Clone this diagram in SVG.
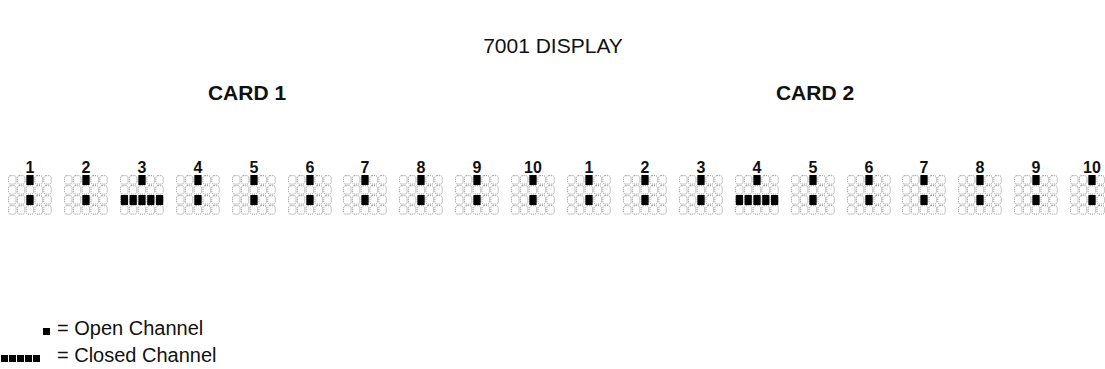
<svg xmlns="http://www.w3.org/2000/svg" xmlns:xlink="http://www.w3.org/1999/xlink" width="1105" height="369" viewBox="0 0 1105 369">
<style>
text{font-family:"Liberation Sans",Arial,sans-serif;fill:#111}
.title{font-size:21px}
.card{font-size:21px;font-weight:bold}
.num{font-size:16px;font-weight:bold;text-anchor:middle}
.leg{font-size:20px}
.cell{fill:none;stroke:#8a8a8a;stroke-width:1;stroke-dasharray:1 1}
.on{fill:#000}
</style>
<defs>
<g id="cells">
<rect class="cell" x="0.6" y="0.7" width="7.4" height="8.4" rx="2"/><rect class="cell" x="9.4" y="0.7" width="7.4" height="8.4" rx="2"/><rect class="cell" x="18.2" y="0.7" width="7.4" height="8.4" rx="2"/><rect class="cell" x="27" y="0.7" width="7.4" height="8.4" rx="2"/><rect class="cell" x="35.8" y="0.7" width="7.4" height="8.4" rx="2"/>
<rect class="cell" x="0.6" y="10.7" width="7.4" height="8.4" rx="2"/><rect class="cell" x="9.4" y="10.7" width="7.4" height="8.4" rx="2"/><rect class="cell" x="18.2" y="10.7" width="7.4" height="8.4" rx="2"/><rect class="cell" x="27" y="10.7" width="7.4" height="8.4" rx="2"/><rect class="cell" x="35.8" y="10.7" width="7.4" height="8.4" rx="2"/>
<rect class="cell" x="0.6" y="20.7" width="7.4" height="8.4" rx="2"/><rect class="cell" x="9.4" y="20.7" width="7.4" height="8.4" rx="2"/><rect class="cell" x="18.2" y="20.7" width="7.4" height="8.4" rx="2"/><rect class="cell" x="27" y="20.7" width="7.4" height="8.4" rx="2"/><rect class="cell" x="35.8" y="20.7" width="7.4" height="8.4" rx="2"/>
<rect class="cell" x="0.6" y="30.7" width="7.4" height="8.4" rx="2"/><rect class="cell" x="9.4" y="30.7" width="7.4" height="8.4" rx="2"/><rect class="cell" x="18.2" y="30.7" width="7.4" height="8.4" rx="2"/><rect class="cell" x="27" y="30.7" width="7.4" height="8.4" rx="2"/><rect class="cell" x="35.8" y="30.7" width="7.4" height="8.4" rx="2"/>
</g>
<g id="open">
<use xlink:href="#cells"/>
<rect class="on" x="18.4" y="0" width="7.2" height="10"/>
<rect class="on" x="18.4" y="20" width="7.2" height="10"/>
</g>
<g id="closed">
<use xlink:href="#cells"/>
<rect class="on" x="18.4" y="0" width="7.2" height="10"/>
<rect class="on" x="0.8" y="20" width="7.2" height="10"/><rect class="on" x="9.6" y="20" width="7.2" height="10"/><rect class="on" x="18.4" y="20" width="7.2" height="10"/><rect class="on" x="27.2" y="20" width="7.2" height="10"/><rect class="on" x="36" y="20" width="7.2" height="10"/>
</g>
</defs>
<text class="title" x="553" y="53" text-anchor="middle">7001 DISPLAY</text>
<text class="card" x="247" y="100" text-anchor="middle">CARD 1</text>
<text class="card" x="815" y="100" text-anchor="middle">CARD 2</text>
<g id="card1">
<g id="c1-ch1"><text class="num" x="30" y="173">1</text><use xlink:href="#open" x="8" y="175"/></g>
<g id="c1-ch2"><text class="num" x="86" y="173">2</text><use xlink:href="#open" x="64" y="175"/></g>
<g id="c1-ch3"><text class="num" x="142" y="173">3</text><use xlink:href="#closed" x="120" y="175"/></g>
<g id="c1-ch4"><text class="num" x="198" y="173">4</text><use xlink:href="#open" x="176" y="175"/></g>
<g id="c1-ch5"><text class="num" x="254" y="173">5</text><use xlink:href="#open" x="232" y="175"/></g>
<g id="c1-ch6"><text class="num" x="310" y="173">6</text><use xlink:href="#open" x="288" y="175"/></g>
<g id="c1-ch7"><text class="num" x="365" y="173">7</text><use xlink:href="#open" x="343" y="175"/></g>
<g id="c1-ch8"><text class="num" x="421" y="173">8</text><use xlink:href="#open" x="399" y="175"/></g>
<g id="c1-ch9"><text class="num" x="477" y="173">9</text><use xlink:href="#open" x="455" y="175"/></g>
<g id="c1-ch10"><text class="num" x="533" y="173">10</text><use xlink:href="#open" x="511" y="175"/></g>
</g>
<g id="card2">
<g id="c2-ch1"><text class="num" x="589" y="173">1</text><use xlink:href="#open" x="567" y="175"/></g>
<g id="c2-ch2"><text class="num" x="645" y="173">2</text><use xlink:href="#open" x="623" y="175"/></g>
<g id="c2-ch3"><text class="num" x="701" y="173">3</text><use xlink:href="#open" x="679" y="175"/></g>
<g id="c2-ch4"><text class="num" x="757" y="173">4</text><use xlink:href="#closed" x="735" y="175"/></g>
<g id="c2-ch5"><text class="num" x="813" y="173">5</text><use xlink:href="#open" x="791" y="175"/></g>
<g id="c2-ch6"><text class="num" x="869" y="173">6</text><use xlink:href="#open" x="847" y="175"/></g>
<g id="c2-ch7"><text class="num" x="924" y="173">7</text><use xlink:href="#open" x="902" y="175"/></g>
<g id="c2-ch8"><text class="num" x="980" y="173">8</text><use xlink:href="#open" x="958" y="175"/></g>
<g id="c2-ch9"><text class="num" x="1036" y="173">9</text><use xlink:href="#open" x="1014" y="175"/></g>
<g id="c2-ch10"><text class="num" x="1092" y="173">10</text><use xlink:href="#open" x="1070" y="175"/></g>
</g>
<g id="legend">
<rect class="on" x="43" y="328" width="7" height="7"/>
<text class="leg" x="57" y="335">= Open Channel</text>
<rect class="on" x="1" y="355" width="7" height="7"/><rect class="on" x="9" y="355" width="7" height="7"/><rect class="on" x="17" y="355" width="7" height="7"/><rect class="on" x="25" y="355" width="7" height="7"/><rect class="on" x="33" y="355" width="7" height="7"/>
<text class="leg" x="57" y="362">= Closed Channel</text>
</g>
</svg>
